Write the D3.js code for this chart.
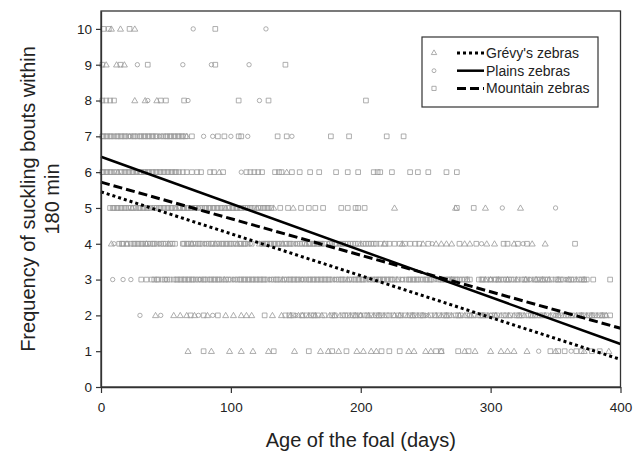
<!DOCTYPE html>
<html>
<head>
<meta charset="utf-8">
<script src="https://cdn.jsdelivr.net/npm/d3@7"></script>
<style>
  html, body { margin: 0; padding: 0; background: #fff; }
  svg { display: block; font-family: "Liberation Sans", Arial, sans-serif; }
</style>
</head>
<body>
<svg id="chart" width="643" height="464"></svg>
<script>
// ---- Data ----
const xTicks = [0, 100, 200, 300, 400];
const yTicks = [0, 1, 2, 3, 4, 5, 6, 7, 8, 9, 10];
const seriesNames = ["Grévy's zebras", "Plains zebras", "Mountain zebras"];

// regression lines: [frequency at day 0, frequency at day 400]
const grevyLine = [5.45, 0.77];
const plainsLine = [6.43, 1.2];
const mountainLine = [5.72, 1.64];

// observations per frequency value: days of foal age
const grevyRows = {
  10: [8, 15, 26],
  9: [4, 12, 18],
  8: [26, 34, 43],
  7: [66],
  6: [13, 91, 143],
  5: [24, 58, 96, 120, 133, 148, 226, 273, 296, 323],
  4: [8, 20, 35, 52, 70, 88, 105, 122, 140, 158, 175, 200, 218, 232, 248, 258, 262, 266, 270, 280, 284, 297, 303, 318, 332, 342],
  3: [95, 140, 190, 228, 262, 270, 282, 296, 300, 306, 313, 320, 327, 335, 340, 345, 352, 360, 366, 372],
  2: [42, 56, 61, 66, 72, 82, 96, 102, 108, 112, 116, 132, 139, 146, 152, 155, 160, 165, 170, 176, 180, 184, 192, 196, 200, 206, 210, 214, 218, 226, 230, 236, 240, 244, 248, 252, 258, 262, 266, 270, 276, 280, 285, 290, 294, 298, 304, 308, 314, 318, 322, 326, 332, 336, 342, 346, 352, 356, 362, 366, 370, 374, 378, 382, 386, 389],
  1: [67, 85, 99, 108, 117, 129, 149, 169, 175, 183, 197, 202, 208, 212, 237, 241, 250, 254, 262, 280, 288, 300, 308, 313, 318, 328, 350, 372, 391]
};
const plainsRows = {
  10: [71, 127],
  9: [28, 63, 85, 114],
  8: [36, 67, 122],
  7: [22, 45, 79, 86, 100, 113, 147],
  6: [28, 108],
  5: [40, 75, 110, 309, 350],
  4: [10, 45, 80, 115, 150, 185, 255, 293, 325],
  3: [9, 17, 23, 50, 76, 102, 130, 155, 180, 206, 232, 258, 300, 330, 358],
  2: [30, 46, 75, 86, 150, 200, 250, 300, 350],
  1: [337, 362]
};
const mountainRows = {
  10: [2, 6, 22, 88],
  9: [1, 15, 36, 88, 142],
  8: [1, 4, 7, 10, 46, 50, 64, 106, 129, 204],
  7: [1, 2, 4, 5, 7, 8, 10, 12, 13, 15, 16, 18, 19, 21, 23, 25, 26, 28, 30, 31, 33, 34, 36, 37, 39, 40, 42, 43, 46, 48, 50, 51, 53, 54, 56, 57, 59, 60, 62, 63, 65, 70, 90, 95, 106, 108, 136, 143, 177, 191, 220, 233],
  6: [1, 2, 4, 5, 7, 8, 10, 12, 15, 16, 18, 19, 21, 22, 24, 25, 27, 30, 31, 33, 34, 36, 37, 39, 40, 42, 43, 45, 46, 48, 49, 51, 52, 54, 55, 57, 58, 60, 63, 66, 70, 74, 77, 84, 87, 94, 112, 115, 118, 121, 124, 134, 137, 139, 147, 153, 161, 168, 181, 190, 198, 210, 213, 215, 224, 238, 244, 252, 266, 274],
  5: [7, 9, 10, 12, 13, 15, 16, 18, 19, 21, 23, 25, 27, 29, 30, 32, 33, 35, 36, 38, 41, 43, 45, 46, 48, 49, 51, 52, 54, 55, 57, 60, 61, 63, 64, 66, 67, 69, 70, 72, 73, 76, 78, 80, 81, 83, 84, 86, 87, 89, 90, 92, 93, 95, 98, 99, 101, 102, 104, 105, 107, 108, 111, 113, 115, 116, 118, 121, 123, 125, 126, 128, 129, 131, 138, 144, 154, 160, 165, 171, 185, 190, 196, 198, 203, 274, 287],
  4: [14, 16, 17, 20, 23, 25, 26, 28, 29, 31, 32, 34, 36, 38, 40, 41, 43, 46, 48, 50, 53, 55, 57, 63, 64, 66, 67, 69, 71, 73, 75, 76, 78, 81, 83, 85, 86, 89, 91, 93, 94, 96, 97, 99, 100, 102, 104, 107, 108, 110, 111, 113, 116, 124, 125, 127, 128, 130, 131, 133, 134, 136, 137, 139, 142, 143, 145, 146, 148, 151, 153, 155, 157, 160, 161, 163, 164, 166, 167, 169, 170, 172, 176, 178, 180, 181, 184, 186, 188, 190, 192, 194, 196, 198, 202, 204, 206, 208, 210, 212, 215, 219, 222, 226, 230, 234, 238, 242, 245, 252, 276, 289, 310, 313, 321, 328, 365],
  3: [31, 35, 39, 41, 43, 44, 47, 49, 51, 53, 56, 58, 59, 61, 62, 64, 65, 67, 68, 70, 71, 73, 75, 77, 79, 80, 82, 84, 85, 87, 88, 90, 91, 93, 96, 98, 100, 103, 105, 107, 108, 110, 111, 113, 114, 116, 117, 119, 120, 122, 123, 125, 126, 128, 131, 133, 135, 136, 138, 141, 143, 145, 146, 148, 149, 151, 152, 154, 156, 158, 160, 161, 163, 164, 166, 167, 169, 170, 172, 173, 175, 176, 178, 181, 183, 185, 186, 188, 191, 193, 195, 196, 198, 199, 201, 202, 204, 207, 209, 211, 212, 214, 215, 217, 218, 220, 221, 223, 224, 226, 229, 232, 235, 237, 238, 240, 241, 243, 244, 246, 248, 250, 251, 253, 254, 256, 260, 263, 265, 267, 268, 270, 271, 273, 274, 276, 278, 280, 282, 284, 291, 293, 294, 297, 300, 303, 304, 306, 308, 310, 312, 314, 316, 318, 321, 324, 326, 328, 331, 334, 336, 338, 340, 342, 344, 347, 350, 352, 354, 356, 360, 362, 364, 368, 370, 372, 374, 379, 392],
  2: [69, 79, 90, 126, 142, 145, 148, 155, 158, 162, 164, 167, 172, 178, 180, 186, 188, 190, 194, 196, 199, 203, 205, 208, 212, 214, 216, 220, 222, 225, 229, 231, 234, 238, 240, 242, 246, 248, 254, 257, 260, 264, 266, 268, 273, 275, 277, 282, 284, 287, 292, 294, 296, 301, 303, 305, 310, 312, 315, 320, 322, 324, 329, 331, 334, 338, 340, 343, 348, 352, 354, 358, 360, 363, 368, 370, 372, 376, 378, 380, 384, 386, 388, 392],
  1: [79, 133, 160, 178, 189, 216, 222, 230, 258, 262, 275, 283, 346, 352, 357, 366, 370, 378, 384]
};

// ---- Drawing ----
const svg = d3.select("#chart");
const x = d3.scaleLinear().domain([0, 400]).range([101, 620.5]);
const y = d3.scaleLinear().domain([0, 10.5]).range([387, 11]);
const gray = "#999";
const axisColor = "#333";

function flatten(rows) {
  const out = [];
  Object.keys(rows).forEach(k => rows[k].forEach(d => out.push({ day: d, freq: +k })));
  return out;
}

const symbolType = { tri: d3.symbolTriangle, circ: d3.symbolCircle, sq: d3.symbolSquare };
const symbolSize = { tri: 16, circ: 15, sq: 22 };

function drawPoints(rows, kind) {
  const sym = d3.symbol().type(symbolType[kind]).size(symbolSize[kind]);
  svg.append("g").selectAll("path").data(flatten(rows)).join("path")
    .attr("d", sym)
    .attr("transform", d => `translate(${x(d.day)},${y(d.freq) + (kind === "tri" ? 0.5 : 0)})`)
    .attr("fill", "none")
    .attr("stroke", gray)
    .attr("stroke-width", 0.8);
}
drawPoints(mountainRows, "sq");
drawPoints(grevyRows, "tri");
drawPoints(plainsRows, "circ");

// regression lines
const lineStyles = [
  { vals: grevyLine, dash: "3,3", width: 3 },
  { vals: plainsLine, dash: null, width: 2.5 },
  { vals: mountainLine, dash: "9,4", width: 3 }
];
const lineGen = d3.line().x(d => x(d[0])).y(d => y(d[1]));
lineStyles.forEach(s => {
  svg.append("path")
    .attr("d", lineGen([[0, s.vals[0]], [400, s.vals[1]]]))
    .attr("fill", "none")
    .attr("stroke", "#000")
    .attr("stroke-width", s.width)
    .attr("stroke-dasharray", s.dash);
});

// frame
svg.append("rect")
  .attr("x", x(0)).attr("y", y(10.5))
  .attr("width", x(400) - x(0)).attr("height", y(0) - y(10.5))
  .attr("fill", "none").attr("stroke", axisColor).attr("stroke-width", 1.3);

// axes
const xAxis = svg.append("g").attr("transform", `translate(0,${y(0)})`)
  .call(d3.axisBottom(x).tickValues(xTicks).tickSize(6).tickPadding(9).tickSizeOuter(0));
const yAxis = svg.append("g").attr("transform", `translate(${x(0)},0)`)
  .call(d3.axisLeft(y).tickValues(yTicks).tickSize(5).tickPadding(4).tickSizeOuter(0));
[xAxis, yAxis].forEach(a => {
  a.select(".domain").attr("stroke", axisColor).attr("stroke-width", 1.3);
  a.selectAll(".tick line").attr("stroke", axisColor).attr("stroke-width", 1.2);
  a.selectAll(".tick text").attr("font-size", 13.5).attr("fill", "#222")
    .attr("font-family", "'Liberation Sans', Arial, sans-serif");
});

// axis titles
svg.append("text")
  .attr("x", (x(0) + x(400)) / 2).attr("y", 447)
  .attr("text-anchor", "middle").attr("font-size", 20).attr("fill", "#222")
  .text("Age of the foal (days)");
const yt = svg.append("text")
  .attr("transform", `translate(35,${(y(0) + y(10.5)) / 2}) rotate(-90)`)
  .attr("text-anchor", "middle").attr("font-size", 20).attr("fill", "#222");
yt.append("tspan").attr("x", 0).attr("dy", 0).text("Frequency of suckling bouts within");
yt.append("tspan").attr("x", 0).attr("dy", 24).text("180 min");

// legend
const lg = svg.append("g");
lg.append("rect").attr("x", 422).attr("y", 37).attr("width", 176).attr("height", 70)
  .attr("fill", "#fff").attr("stroke", axisColor).attr("stroke-width", 1.2);
const legendKinds = ["tri", "circ", "sq"];
seriesNames.forEach((name, i) => {
  const cy = 53 + i * 17.7;
  const k = legendKinds[i];
  lg.append("path")
    .attr("d", d3.symbol().type(symbolType[k]).size(symbolSize[k] * 0.8)())
    .attr("transform", `translate(434,${cy})`)
    .attr("fill", "none").attr("stroke", gray).attr("stroke-width", 0.8);
  const s = lineStyles[i];
  lg.append("line").attr("x1", 457).attr("x2", 484).attr("y1", cy).attr("y2", cy)
    .attr("stroke", "#000").attr("stroke-width", s.width).attr("stroke-dasharray", s.dash);
  lg.append("text").attr("x", 486).attr("y", cy + 5)
    .attr("font-size", 14).attr("fill", "#222").text(name);
});
</script>
</body>
</html>
